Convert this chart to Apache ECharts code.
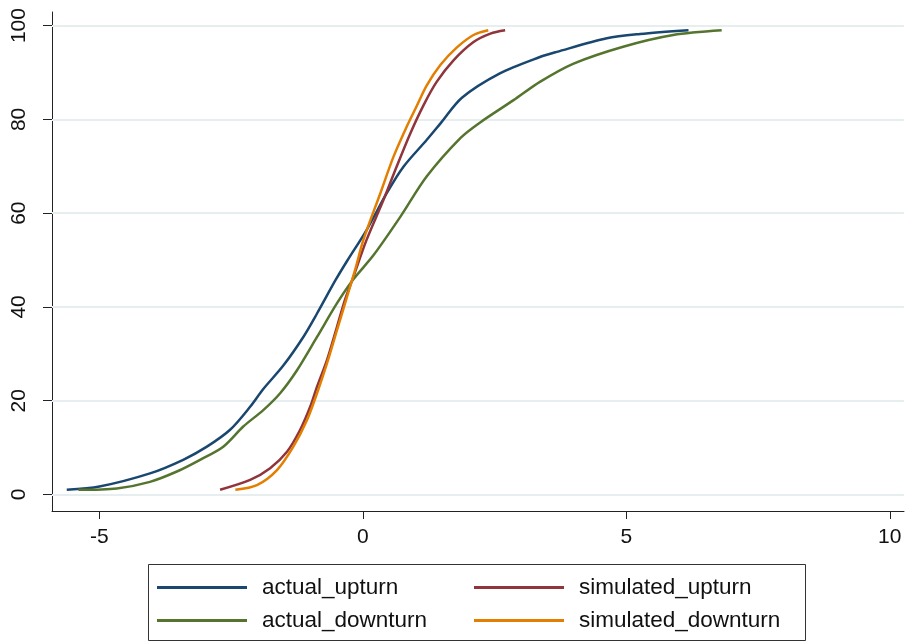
<!DOCTYPE html>
<html>
<head>
<meta charset="utf-8">
<title>ECDF upturn / downturn</title>
<script src="https://cdn.jsdelivr.net/npm/echarts@6/dist/echarts.min.js"></script>
<style>
  html, body { margin: 0; padding: 0; background: #fff; }
  #chart { width: 906px; height: 642px; }
</style>
</head>
<body>
<div id="chart"></div>
<script>
// [x, cumulative percent]
var actualUpturn = [
  [-5.62, 1], [-5.0, 1.7], [-4.04, 4.5], [-3.41, 7.4], [-2.96, 10.2], [-2.52, 13.8],
  [-2.14, 18.7], [-1.89, 22.5], [-1.51, 27.5], [-1.13, 33.6], [-0.87, 38.6], [-0.52, 45.7],
  [-0.3, 49.8], [0.07, 56.4], [0.45, 64.2], [0.77, 69.9], [1.21, 75.6], [1.47, 79.1],
  [1.88, 84.6], [2.6, 89.8], [3.36, 93.3], [3.68, 94.4], [4.63, 97.3], [5.26, 98.2], [6.18, 99]
];
var simulatedUpturn = [
  [-2.71, 1], [-2.14, 3.1], [-1.76, 5.6], [-1.44, 9.1], [-1.19, 13.8], [-1.0, 18.7],
  [-0.87, 23], [-0.68, 28.7], [-0.49, 35.8], [-0.34, 41.5], [-0.18, 46.4], [0.07, 54.3],
  [0.39, 62.8], [0.64, 69.9], [0.9, 77], [1.15, 83], [1.4, 88], [1.72, 92.6],
  [2.1, 96.5], [2.42, 98.3], [2.7, 99]
];
var actualDownturn = [
  [-5.4, 1], [-4.67, 1.3], [-4.04, 2.7], [-3.53, 4.9], [-3.09, 7.4], [-2.65, 10.2],
  [-2.27, 14.5], [-1.89, 18], [-1.57, 21.6], [-1.25, 26.5], [-0.87, 33.6], [-0.49, 40.8],
  [-0.18, 45.9], [0.2, 51], [0.71, 59.2], [1.21, 67.8], [1.85, 76],
  [2.22, 79.3], [2.86, 84.1], [3.36, 88], [4.0, 91.9], [4.94, 95.5], [5.89, 98], [6.81, 99]
];
var simulatedDownturn = [
  [-2.42, 1], [-2.01, 2], [-1.63, 5.2], [-1.32, 10.2], [-1.06, 15.9], [-0.87, 21.6],
  [-0.68, 28], [-0.49, 35.1], [-0.3, 42.2], [-0.15, 47.8], [0.01, 54.3], [0.33, 64.2],
  [0.58, 72], [0.83, 78.4], [1.02, 82.8], [1.21, 87.2], [1.47, 91.6], [1.78, 95.3],
  [2.1, 98], [2.38, 99]
];

var seriesNames = ["actual_upturn", "simulated_upturn", "actual_downturn", "simulated_downturn"];
var xTicks = [-5, 0, 5, 10];
var yTicks = [0, 20, 40, 60, 80, 100];

var font = "Liberation Sans, Arial, sans-serif";
var colors = ["#1a476f", "#90353b", "#55752f", "#e37e00"];
var seriesData = [actualUpturn, simulatedUpturn, actualDownturn, simulatedDownturn];

var chart = echarts.init(document.getElementById("chart"), null, { renderer: "canvas" });

// one single-item legend per slot, Stata style 2x2 grid
var legendPos = [
  { left: 157, top: 576 },
  { left: 474, top: 576 },
  { left: 157, top: 609 },
  { left: 474, top: 609 }
];
var legends = seriesNames.map(function (name, i) {
  return {
    data: [name],
    left: legendPos[i].left,
    top: legendPos[i].top,
    padding: 0,
    icon: "rect",
    itemWidth: 90,
    itemHeight: 3,
    selectedMode: false,
    textStyle: {
      fontFamily: font,
      fontSize: 22.5,
      color: "#111",
      padding: [0, 0, 0, 10]
    }
  };
});

var series = seriesNames.map(function (name, i) {
  var s = {
    name: name,
    type: "line",
    data: seriesData[i],
    showSymbol: false,
    smooth: 0.3,
    color: colors[i],
    lineStyle: { width: 2.5, color: colors[i] },
    z: 3 + i
  };
  if (i === 0) {
    // horizontal grid lines
    s.markLine = {
      silent: true,
      symbol: "none",
      label: { show: false },
      lineStyle: { color: "#e6eef0", width: 2, type: "solid" },
      z: 1,
      data: yTicks.map(function (v) { return { yAxis: v }; })
    };
  }
  return s;
});

chart.setOption({
  animation: false,
  backgroundColor: "#fff",
  grid: { left: 52, right: 2, top: 12, bottom: 131 },
  legend: legends,
  xAxis: {
    type: "value",
    min: -5.9,
    max: 10.27,
    axisLine: { onZero: false, lineStyle: { color: "#222", width: 1 } },
    axisTick: { show: true, length: 8, customValues: xTicks, lineStyle: { color: "#222" } },
    axisLabel: { customValues: xTicks, margin: 16, fontFamily: font, fontSize: 21, color: "#111" },
    splitLine: { show: false }
  },
  yAxis: {
    type: "value",
    min: -3.52,
    max: 102.9,
    axisLine: { show: true, onZero: false, lineStyle: { color: "#222", width: 1 } },
    axisTick: { show: true, length: 9, customValues: yTicks, lineStyle: { color: "#222" } },
    axisLabel: { customValues: yTicks, rotate: 90, margin: 22, fontFamily: font, fontSize: 21, color: "#111" },
    splitLine: { show: false }
  },
  graphic: [{
    type: "rect",
    shape: { x: 148.5, y: 564.5, width: 657, height: 76 },
    style: { fill: "none", stroke: "#333", lineWidth: 1 }
  }],
  series: series
});
</script>
</body>
</html>
